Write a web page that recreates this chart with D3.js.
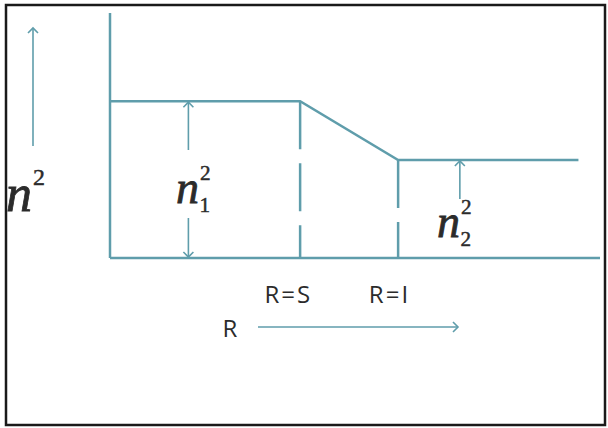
<!DOCTYPE html>
<html>
<head>
<meta charset="utf-8">
<script src="https://cdn.jsdelivr.net/npm/d3@7"></script>
<style>
  body { margin: 0; background: #fff; }
  svg { display: block; }
</style>
</head>
<body>
<div id="chart"></div>
<script>
// Refractive index profile n^2 against radius R (step region, linear fall, cladding)
const profileR = [0, 1.94, 2.94, 4.78];     // R at the profile breakpoints
const profileN2 = [1.6, 1.6, 1.0, 1.0];     // n^2 at those breakpoints
const markerR = [1.94, 2.94];               // dashed drop lines
const markerLabels = ["R=S", "R=I"];
const n1ArrowR = 0.8;                       // where the n1^2 span is drawn
const n2ArrowR = 3.57;                      // where the n2^2 span is drawn

const W = 608, H = 428;
const lineColor = "#5f9dab";
const textColor = "#2b2b2b";

const svg = d3.select("#chart").append("svg")
    .attr("width", W)
    .attr("height", H);

// frame
svg.append("rect")
    .attr("x", 6).attr("y", 5)
    .attr("width", 599).attr("height", 420)
    .attr("fill", "none")
    .attr("stroke", "#1a1a1a")
    .attr("stroke-width", 2.5);

const x = d3.scaleLinear().domain([0, 5]).range([110, 600]);
const y = d3.scaleLinear().domain([0, 2.5]).range([258, 13]);

// open chevron arrow head
svg.append("defs").append("marker")
    .attr("id", "head")
    .attr("viewBox", "-6 -6 8 12")
    .attr("refX", 0).attr("refY", 0)
    .attr("markerWidth", 8).attr("markerHeight", 12)
    .attr("markerUnits", "userSpaceOnUse")
    .attr("orient", "auto-start-reverse")
    .append("path")
    .attr("d", "M-5,-5L0,0L-5,5")
    .attr("fill", "none")
    .attr("stroke", lineColor)
    .attr("stroke-width", 1.6);

const g = svg.append("g");

// axes: plain lines, no ticks
g.append("line")
    .attr("x1", x(0)).attr("x2", x(0))
    .attr("y1", y(2.5)).attr("y2", y(0))
    .attr("stroke", lineColor).attr("stroke-width", 2.5);
g.append("line")
    .attr("x1", x(0)).attr("x2", x(5))
    .attr("y1", y(0)).attr("y2", y(0))
    .attr("stroke", lineColor).attr("stroke-width", 2.5);

// profile
const line = d3.line()
    .x((d, i) => x(profileR[i]))
    .y(d => y(d));
g.append("path")
    .datum(profileN2)
    .attr("d", line)
    .attr("fill", "none")
    .attr("stroke", lineColor)
    .attr("stroke-width", 2.5);

// dashed drop lines at R=S and R=I
const profileAt = r => profileN2[profileR.indexOf(r)];
g.selectAll(".drop")
    .data(markerR)
    .join("line")
    .attr("class", "drop")
    .attr("x1", d => x(d)).attr("x2", d => x(d))
    .attr("y1", d => y(profileAt(d))).attr("y2", y(0))
    .attr("stroke", lineColor)
    .attr("stroke-width", 2.5)
    .attr("stroke-dasharray", "48,14");

// marker labels under the baseline
g.selectAll(".mlabel")
    .data(markerR)
    .join("text")
    .attr("class", "mlabel")
    .attr("x", d => x(d) + 12)
    .attr("y", 303)
    .attr("text-anchor", "end")
    .attr("font-family", "'Open Sans', sans-serif")
    .attr("font-size", 24)
    .attr("letter-spacing", 2)
    .attr("fill", textColor)
    .text((d, i) => markerLabels[i]);

// n1^2 span: arrow up to n1 level, arrow down to baseline
const ax1 = x(n1ArrowR);
g.append("line")
    .attr("x1", ax1).attr("x2", ax1)
    .attr("y1", 150).attr("y2", y(profileN2[0]) + 1)
    .attr("stroke", lineColor).attr("stroke-width", 1.6)
    .attr("marker-end", "url(#head)");
g.append("line")
    .attr("x1", ax1).attr("x2", ax1)
    .attr("y1", 218).attr("y2", y(0) - 1)
    .attr("stroke", lineColor).attr("stroke-width", 1.6)
    .attr("marker-end", "url(#head)");

// n2^2 arrow
const ax2 = x(n2ArrowR);
g.append("line")
    .attr("x1", ax2).attr("x2", ax2)
    .attr("y1", 199).attr("y2", y(profileN2[3]) + 1)
    .attr("stroke", lineColor).attr("stroke-width", 1.6)
    .attr("marker-end", "url(#head)");

// left n^2 direction arrow
g.append("line")
    .attr("x1", 33).attr("x2", 33)
    .attr("y1", 146).attr("y2", 28)
    .attr("stroke", lineColor).attr("stroke-width", 1.6)
    .attr("marker-end", "url(#head)");

// R direction arrow
g.append("line")
    .attr("x1", 258).attr("x2", 458)
    .attr("y1", 327).attr("y2", 327)
    .attr("stroke", lineColor).attr("stroke-width", 1.6)
    .attr("marker-end", "url(#head)");
g.append("text")
    .attr("x", 230).attr("y", 337)
    .attr("text-anchor", "middle")
    .attr("font-family", "'Open Sans', sans-serif")
    .attr("font-size", 24)
    .attr("fill", textColor)
    .text("R");

// math labels: italic n with upright superscript / subscript
function mathLabel(x0, base, size, sup, sub) {
    const t = g.append("g")
        .attr("font-family", "'Liberation Serif', serif")
        .attr("fill", textColor)
        .attr("stroke", textColor);
    t.append("text")
        .attr("x", x0).attr("y", base)
        .attr("font-style", "italic")
        .attr("font-size", size)
        .attr("stroke-width", 0.8)
        .text("n");
    const nw = size * 0.5;
    t.append("text")
        .attr("x", x0 + nw + 1).attr("y", base - size * 0.5)
        .attr("font-size", size * 0.46)
        .attr("stroke-width", 0.5)
        .text(sup);
    if (sub) {
        t.append("text")
            .attr("x", x0 + nw + 0.5).attr("y", base + size * 0.2)
            .attr("font-size", size * 0.46)
            .attr("stroke-width", 0.5)
            .text(sub);
    }
}
mathLabel(6, 211, 52, "2", null);
mathLabel(176, 203, 46, "2", "1");
mathLabel(437, 237, 46, "2", "2");
</script>
</body>
</html>
